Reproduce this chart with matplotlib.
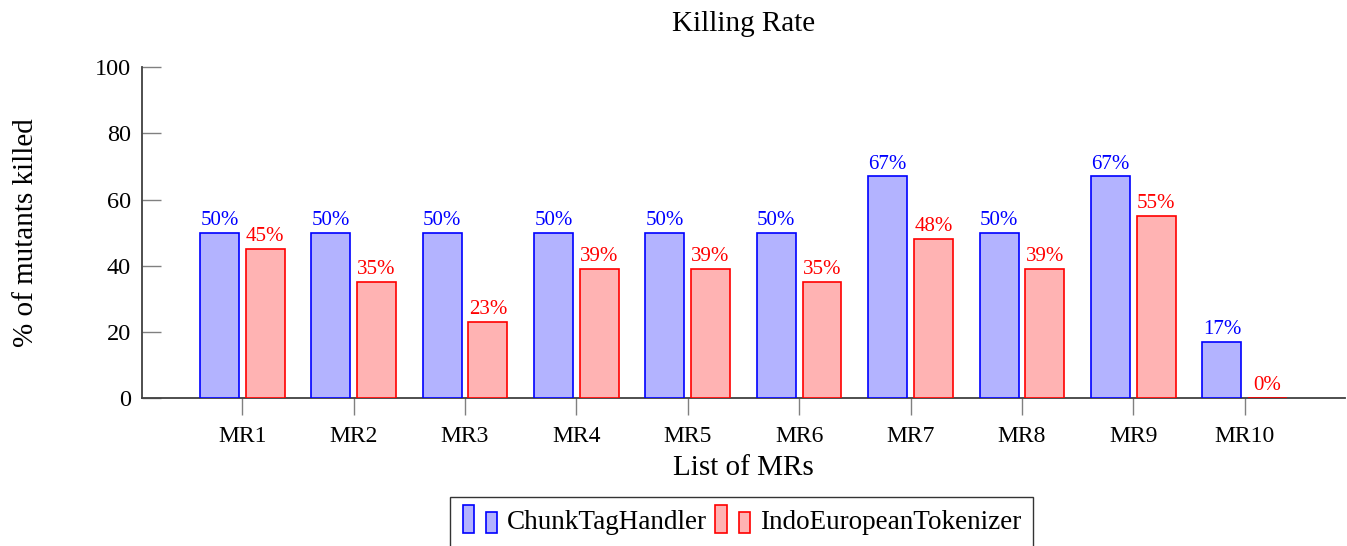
import matplotlib.pyplot as plt
from matplotlib.patches import Rectangle
from matplotlib.container import BarContainer
from matplotlib.legend_handler import HandlerBase

plt.rcParams['font.family'] = ['Liberation Serif', 'DejaVu Serif']

# adatok
mrs = ["MR1", "MR2", "MR3", "MR4", "MR5", "MR6", "MR7", "MR8", "MR9", "MR10"]
chunk = [50, 50, 50, 50, 50, 50, 67, 50, 67, 17]
indo = [45, 35, 23, 39, 39, 35, 48, 39, 55, 0]
y_ticks = [0, 20, 40, 60, 80, 100]

blue_fill = "#b3b3ff"
red_fill = "#ffb3b3"


# pgfplots-szerű jelmagyarázat: két kis oszlop
class TwoBars(HandlerBase):
    def create_artists(self, legend, orig, xd, yd, w, h, fontsize, trans):
        p = orig.patches[0]
        fc = p.get_facecolor()
        ec = p.get_edgecolor()
        bw = w * 0.3
        r1 = Rectangle((xd, yd - h * 0.2), bw, h * 1.35, facecolor=fc, edgecolor=ec, lw=1.2, transform=trans)
        r2 = Rectangle((xd + w * 0.62, yd - h * 0.2), bw, h * 1.0, facecolor=fc, edgecolor=ec, lw=1.2, transform=trans)
        return [r1, r2]


fig = plt.figure(figsize=(13.47, 5.46), dpi=100)
ax = fig.add_axes([0.1054, 0.271, 0.8931, 0.606])

x = list(range(1, len(mrs) + 1))
xb = [v - 0.205 for v in x]
xr = [v + 0.205 for v in x]
b1 = ax.bar(xb, chunk, width=0.35, color=blue_fill, edgecolor="blue", lw=1.2,
            label="ChunkTagHandler", zorder=3)
b2 = ax.bar(xr, indo, width=0.35, color=red_fill, edgecolor="red", lw=1.2,
            label="IndoEuropeanTokenizer", zorder=3)

for xi, v in zip(xb, chunk):
    ax.annotate(f"{v}%", (xi, v), xytext=(0, 2), textcoords="offset points",
                ha="center", va="bottom", color="blue", fontsize=15)
for xi, v in zip(xr, indo):
    ax.annotate(f"{v}%", (xi, v), xytext=(0, 2), textcoords="offset points",
                ha="center", va="bottom", color="red", fontsize=15)

ax.set_xlim(0.1, 10.9)
ax.set_ylim(0, 100)
ax.set_xticks(x)
ax.set_xticklabels(mrs, fontsize=17)
ax.set_yticks(y_ticks)
ax.set_yticklabels([str(t) for t in y_ticks], fontsize=17.5)
ax.tick_params(axis="y", direction="in", length=14, color="#808080", width=1, pad=8)
ax.tick_params(axis="x", direction="out", length=12, color="#808080", width=1, pad=8)
ax.spines["top"].set_visible(False)
ax.spines["right"].set_visible(False)
ax.spines["left"].set_color("#404040")
ax.spines["bottom"].set_color("#404040")
ax.spines["left"].set_linewidth(1.3)
ax.spines["bottom"].set_linewidth(1.3)

ax.set_title("Killing Rate", fontsize=21, pad=26)
ax.set_xlabel("List of MRs", fontsize=21, labelpad=6)
ax.set_ylabel("% of mutants killed", fontsize=21, labelpad=40)

leg = fig.legend(handles=[b1, b2], loc="upper center", bbox_to_anchor=(0.5508, 0.089),
                 ncol=2, fontsize=19.5, frameon=True, fancybox=False, edgecolor="black",
                 handler_map={BarContainer: TwoBars()}, handlelength=1.4, handleheight=0.8,
                 handletextpad=0.25, columnspacing=0.3, borderpad=0.45, borderaxespad=0)
leg.get_frame().set_linewidth(1.0)

plt.savefig("out.png", dpi=100)
plt.close()
